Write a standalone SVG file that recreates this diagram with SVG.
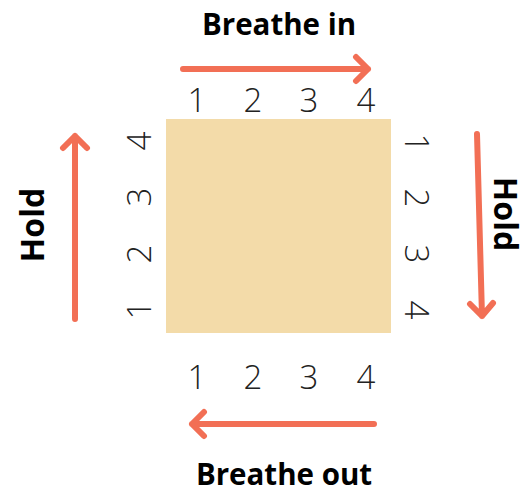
<svg xmlns="http://www.w3.org/2000/svg" width="531" height="494" viewBox="0 0 531 494">
<style>
.num{font-family:"Open Sans","Liberation Sans",sans-serif;font-weight:300;font-size:33px;fill:#222;text-anchor:middle}
.lbl{font-family:"Open Sans","Liberation Sans",sans-serif;font-weight:700;font-size:29.5px;fill:#000;text-anchor:middle}
.hold{font-size:32px}
.arr{stroke:#F26F55;stroke-width:6;stroke-linecap:round;stroke-linejoin:round;fill:none}
</style>
<rect width="531" height="494" fill="#fff"/>
<g id="square"><rect x="166" y="119" width="225" height="214" fill="#F3DBA9"/></g>
<g id="connectors">
<path class="arr" d="M183 69H368M356 57L368 69L356 81"/>
<path class="arr" d="M75 319V136M63 148L75 136L87 148"/>
<path class="arr" d="M477 134L482 316M470 304L482 316L493 303"/>
<path class="arr" d="M374 424H192M204 412L192 424L204 436"/>
</g>
<g id="top-labels">
<text class="lbl" x="279" y="35">Breathe in</text>
<text class="num" x="197" y="112">1</text><text class="num" x="253" y="112">2</text><text class="num" x="309" y="112">3</text><text class="num" x="366" y="112">4</text>
</g>
<g id="bottom-labels">
<text class="num" x="197" y="389">1</text><text class="num" x="253" y="389">2</text><text class="num" x="309" y="389">3</text><text class="num" x="366" y="389">4</text>
<text class="lbl" x="284" y="485">Breathe out</text>
</g>
<g id="left-labels">
<text class="lbl hold" transform="translate(44 225) rotate(-90)">Hold</text>
<text class="num" transform="translate(151 310) rotate(-90)">1</text>
<text class="num" transform="translate(151 254) rotate(-90)">2</text>
<text class="num" transform="translate(151 197) rotate(-90)">3</text>
<text class="num" transform="translate(151 141) rotate(-90)">4</text>
</g>
<g id="right-labels">
<text class="lbl hold" transform="translate(494 214) rotate(90)">Hold</text>
<text class="num" transform="translate(405 143) rotate(90)">1</text>
<text class="num" transform="translate(405 198) rotate(90)">2</text>
<text class="num" transform="translate(405 254) rotate(90)">3</text>
<text class="num" transform="translate(405 310) rotate(90)">4</text>
</g>
</svg>
